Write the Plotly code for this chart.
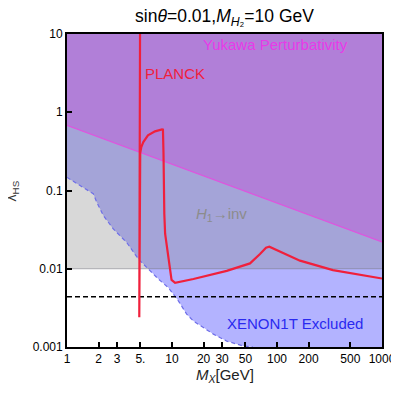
import plotly.graph_objects as go

# XENON1T exclusion boundary (dashed blue curve)
xenon_m = [1, 1.33, 1.78, 1.92, 2.22, 2.76, 3.70, 4.78, 5.95, 7.42, 9.22, 11.5,
           13.8, 16.0, 19.9, 24.8, 33.2, 47.7, 59]
xenon_lam = [0.147, 0.116, 0.0908, 0.0709, 0.0478, 0.0323, 0.0217, 0.0133, 0.0099,
             0.00738, 0.00575, 0.00389, 0.00263, 0.00215, 0.00177, 0.00146, 0.00119,
             0.00103, 0.001]

# Yukawa perturbativity boundary
yukawa_m = [1, 1000]
yukawa_lam = [0.68, 0.022]

# H1 -> inv bound
hinv_lam = 0.01

# dashed horizontal line
dash_lam = 0.0044

# PLANCK relic density curve
planck_m = [4.96, 4.94, 4.90, 4.88, 4.89, 4.91, 4.94, 4.98, 5.1, 5.33, 5.9, 6.89,
            8.03, 8.2, 8.3, 8.35, 8.45, 8.6, 9.2, 9.9, 10.7, 16.0, 33.2, 55.3,
            68.9, 78.6, 84.5, 99.4, 165.6, 341, 1000]
planck_lam = [10, 1, 0.01, 0.0024, 0.01, 0.05, 0.2, 0.3, 0.36, 0.416, 0.507, 0.57,
              0.605, 0.6, 0.3, 0.1, 0.05, 0.028, 0.0138, 0.0072, 0.0066, 0.0074,
              0.0094, 0.0117, 0.0154, 0.0186, 0.0191, 0.0174, 0.0127, 0.0096, 0.0075]

x_lo, x_hi = 1, 1000
y_lo, y_hi = 0.001, 10

FONT = "Liberation Sans, Arial, sans-serif"

# page body has an 8px margin, so the figure is shifted to compensate
W, H = 399, 381
PW, PH = 315, 313

fig = go.Figure()

# XENON1T excluded region
fig.add_trace(go.Scatter(
    x=xenon_m + [x_hi, x_hi, x_lo],
    y=xenon_lam + [y_lo, y_hi, y_hi],
    fill='toself', fillcolor='#b3b3ff',
    line=dict(width=0), mode='lines', hoverinfo='skip'
))

# H1 -> inv region (semi-transparent grey)
fig.add_trace(go.Scatter(
    x=[x_lo, x_hi, x_hi, x_lo],
    y=[hinv_lam, hinv_lam, y_hi, y_hi],
    fill='toself', fillcolor='rgba(135,135,135,0.32)',
    line=dict(width=0), mode='lines', hoverinfo='skip'
))
fig.add_trace(go.Scatter(
    x=[x_lo, x_hi], y=[hinv_lam, hinv_lam],
    mode='lines', line=dict(color='rgba(120,120,130,0.55)', width=1.2),
    hoverinfo='skip'
))

# XENON boundary
fig.add_trace(go.Scatter(
    x=xenon_m, y=xenon_lam, mode='lines',
    line=dict(color='#6e6ee8', width=1.2, dash='4px,3px'),
    hoverinfo='skip'
))

# Yukawa region
fig.add_trace(go.Scatter(
    x=yukawa_m + [x_hi, x_lo],
    y=yukawa_lam + [y_hi, y_hi],
    fill='toself', fillcolor='#b17fd8',
    line=dict(width=0), mode='lines', hoverinfo='skip'
))
fig.add_trace(go.Scatter(
    x=yukawa_m, y=yukawa_lam, mode='lines',
    line=dict(color='#de55de', width=1.2), hoverinfo='skip'
))

# dashed line
fig.add_trace(go.Scatter(
    x=[x_lo, x_hi], y=[dash_lam, dash_lam], mode='lines',
    line=dict(color='black', width=1.5, dash='5px,3px'), hoverinfo='skip'
))

# PLANCK
fig.add_trace(go.Scatter(
    x=planck_m, y=planck_lam, mode='lines',
    line=dict(color='#f0203c', width=2.2), hoverinfo='skip'
))

annotations = [
    dict(x=1.99, y=0.87, text="Yukawa Perturbativity", font=dict(color='#e83ae8', size=15)),
    dict(x=1.03, y=0.5, text="PLANCK", font=dict(color='#f0203c', size=15)),
    dict(x=1.47, y=-1.31, text="<i>H</i><sub>1</sub>→inv", font=dict(color='#8c8c8c', size=15)),
    dict(x=2.17, y=-2.705, text="XENON1T Excluded", font=dict(color='#2a2af0', size=15)),
]
for a in annotations:
    a.update(xref='x', yref='y', showarrow=False)

annotations += [
    dict(xref='paper', yref='paper', x=-0.175, y=0.5, textangle=-90,
         xanchor='center', yanchor='middle',
         text="λ<sub>HS</sub>", showarrow=False, font=dict(size=14, color='#333')),
    dict(xref='paper', yref='paper', x=0.5, y=-0.09,
         xanchor='center', yanchor='middle',
         text="<i>M</i><sub><i>X</i></sub>[GeV]", showarrow=False,
         font=dict(size=15, color='#222')),
]

fig.update_layout(
    width=W, height=H,
    margin=dict(l=59, r=W - 59 - PW, t=26, b=H - 26 - PH),
    plot_bgcolor='white', paper_bgcolor='white',
    showlegend=False,
    font=dict(family=FONT, color='black', size=12),
    title=dict(text="sin<i>θ</i>=0.01,<i>M</i><sub><i>H</i>₂</sub>=10 GeV",
               x=0.5, xref='paper', y=1 - 2 / H, yref='container', yanchor='top',
               pad=dict(t=0, b=0), font=dict(size=17.5, color='black')),
    xaxis=dict(type='log', range=[0, 3], automargin=False,
               tickvals=[1, 2, 3, 5, 10, 20, 30, 50, 100, 200, 500, 1000],
               ticktext=["1", "2", "3", "5.", "10", "20", "30", "50", "100", "200", "500", "1000"],
               ticks='inside', ticklen=5, tickwidth=1.5, tickcolor='black',
               showline=True, linecolor='black', linewidth=1.8, mirror=True,
               showgrid=False, zeroline=False),
    yaxis=dict(type='log', range=[-3, 1], automargin=False,
               tickvals=[0.001, 0.01, 0.1, 1, 10],
               ticktext=["0.001", "0.01", "0.1", "1", "10"],
               ticks='inside', ticklen=5, tickwidth=1.5, tickcolor='black',
               showline=True, linecolor='black', linewidth=1.8, mirror=True,
               showgrid=False, zeroline=False),
    annotations=annotations,
)

fig.write_html("out.html")
